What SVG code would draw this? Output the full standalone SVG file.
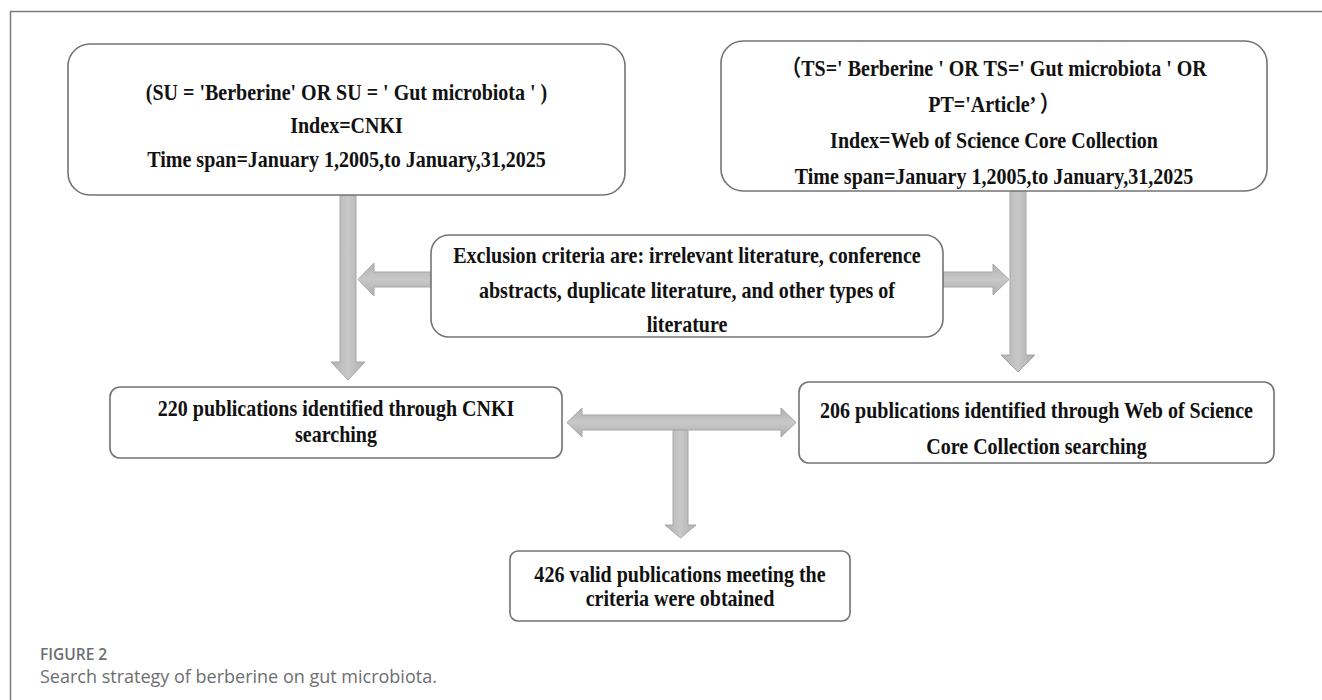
<svg xmlns="http://www.w3.org/2000/svg" width="1322" height="700" viewBox="0 0 1322 700">
<defs>
<linearGradient id="gv" x1="0" y1="0" x2="1" y2="0">
<stop offset="0" stop-color="#b2b2b2"/><stop offset="0.5" stop-color="#c8c8c8"/><stop offset="1" stop-color="#aeaeae"/>
</linearGradient>
<linearGradient id="gh" x1="0" y1="0" x2="0" y2="1">
<stop offset="0" stop-color="#b2b2b2"/><stop offset="0.5" stop-color="#c8c8c8"/><stop offset="1" stop-color="#aeaeae"/>
</linearGradient>
</defs>
<style>
.box{fill:#ffffff;stroke:#747474;stroke-width:1.6}
.t{font-family:"Liberation Serif","Times New Roman","Noto Sans CJK SC",serif;font-weight:bold;font-size:22.5px;fill:#111111;text-anchor:middle}
.av{fill:url(#gv);stroke:#a6a6a6;stroke-width:1}
.ah{fill:url(#gh);stroke:#a6a6a6;stroke-width:1}
.frame{stroke:#7a7a80;stroke-width:1.5;fill:none}
.cap1{font-family:"Open Sans","Noto Sans",sans-serif;font-weight:600;font-size:15.5px;fill:#6d6e71}
.cap2{font-family:"Open Sans","Noto Sans",sans-serif;font-size:18px;fill:#6d6e71}
</style>
<rect width="1322" height="700" fill="#ffffff"/>
<path class="frame" d="M10.5,700 V11.5 H1322"/>

<g id="connectors">
<polygon class="av" points="340,195 356,195 356,362 365,362 348,380 331,362 340,362"/>
<polygon class="ah" points="431,272 374,272 374,263 358,279.5 374,296 374,287 431,287"/>
<polygon class="ah" points="943,272 993,272 993,264 1009,279.5 993,295 993,287 943,287"/>
<polygon class="av" points="1010,191 1026,191 1026,355 1035,355 1018,372 1001,355 1010,355"/>
<polygon class="ah" points="567,422.5 582,408 582,415 781,415 781,408 796,422.5 781,437 781,430 582,430 582,437"/>
<polygon class="av" points="673,430 688,430 688,525 696,525 680.5,538 665,525 673,525"/>
</g>

<g id="node-cnki-query">
<rect class="box" x="68" y="44" width="557" height="151" rx="22"/>
<text class="t" transform="translate(346.5,99.5) scale(0.89,1)">(SU = 'Berberine' OR SU = ' Gut microbiota ' )</text>
<text class="t" transform="translate(346.5,133) scale(0.89,1)">Index=CNKI</text>
<text class="t" transform="translate(346.5,166.5) scale(0.89,1)">Time span=January 1,2005,to January,31,2025</text>
</g>

<g id="node-wos-query">
<rect class="box" x="721" y="41" width="546" height="150" rx="22"/>
<text class="t" transform="translate(994,76) scale(0.89,1)">（TS=' Berberine ' OR TS=' Gut microbiota ' OR</text>
<text class="t" transform="translate(994,112) scale(0.89,1)">PT='Article’ ）</text>
<text class="t" transform="translate(994,148) scale(0.89,1)">Index=Web of Science Core Collection</text>
<text class="t" transform="translate(994,184) scale(0.89,1)">Time span=January 1,2005,to January,31,2025</text>
</g>

<g id="node-exclusion">
<rect class="box" x="431" y="235" width="512" height="102" rx="18"/>
<text class="t" transform="translate(687,263) scale(0.89,1)">Exclusion criteria are: irrelevant literature, conference</text>
<text class="t" transform="translate(687,298) scale(0.89,1)">abstracts, duplicate literature, and other types of</text>
<text class="t" transform="translate(687,332) scale(0.89,1)">literature</text>
</g>

<g id="node-cnki-result">
<rect class="box" x="110" y="387" width="452" height="71" rx="10"/>
<text class="t" transform="translate(336,416) scale(0.89,1)">220 publications identified through CNKI</text>
<text class="t" transform="translate(336,442) scale(0.89,1)">searching</text>
</g>

<g id="node-wos-result">
<rect class="box" x="799" y="382" width="475" height="81" rx="10"/>
<text class="t" transform="translate(1036.5,418) scale(0.89,1)">206 publications identified through Web of Science</text>
<text class="t" transform="translate(1036.5,454) scale(0.89,1)">Core Collection searching</text>
</g>

<g id="node-final">
<rect class="box" x="510" y="551" width="340" height="70" rx="8"/>
<text class="t" transform="translate(680,582) scale(0.89,1)">426 valid publications meeting the</text>
<text class="t" transform="translate(680,606) scale(0.89,1)">criteria were obtained</text>
</g>

<text class="cap1" x="40" y="660">FIGURE 2</text>
<text class="cap2" x="40" y="683">Search strategy of berberine on gut microbiota.</text>
</svg>
